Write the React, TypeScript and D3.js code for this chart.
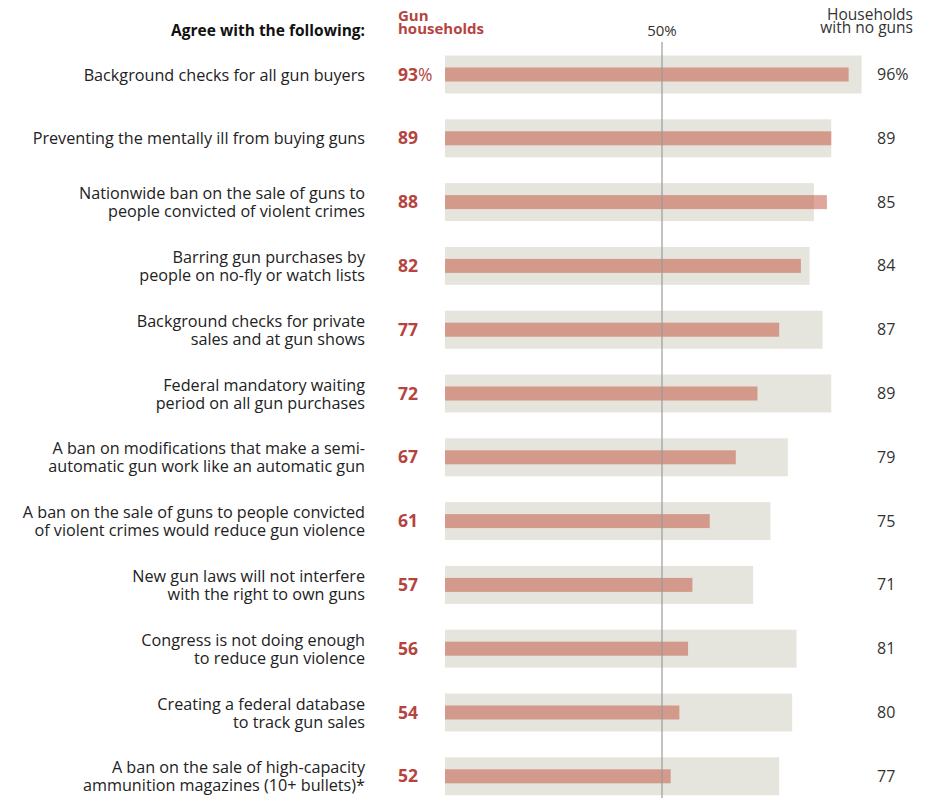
import React from "react";
import * as d3 from "d3";

const statements: string[][] = [
  ["Background checks for all gun buyers"],
  ["Preventing the mentally ill from buying guns"],
  ["Nationwide ban on the sale of guns to", "people convicted of violent crimes"],
  ["Barring gun purchases by", "people on no-fly or watch lists"],
  ["Background checks for private", "sales and at gun shows"],
  ["Federal mandatory waiting", "period on all gun purchases"],
  ["A ban on modifications that make a semi-", "automatic gun work like an automatic gun"],
  ["A ban on the sale of guns to people convicted", "of violent crimes would reduce gun violence"],
  ["New gun laws will not interfere", "with the right to own guns"],
  ["Congress is not doing enough", "to reduce gun violence"],
  ["Creating a federal database", "to track gun sales"],
  ["A ban on the sale of high-capacity", "ammunition magazines (10+ bullets)*"],
];
const gunHouseholds: number[] = [93, 89, 88, 82, 77, 72, 67, 61, 57, 56, 54, 52];
const noGunHouseholds: number[] = [96, 89, 85, 84, 87, 89, 79, 75, 71, 81, 80, 77];

const W = 934;
const H = 798;
const FONT = "'Open Sans', 'Liberation Sans', Arial, sans-serif";

export default function App() {
  const x = d3.scaleLinear().domain([0, 100]).range([445, 879]);
  const idx = d3.range(statements.length);
  const y = d3.scaleBand<number>().domain(idx).range([42.6, 808.2]).padding(0);
  const bw = y.bandwidth();
  const center = (i: number) => (y(i) as number) + bw / 2;
  const bgH = 38;
  const redH = 14;

  return (
    <div style={{ position: "fixed", left: 0, top: 0, width: W, height: H, background: "#fff" }}>
      <svg width={W} height={H} style={{ display: "block" }}>
        {/* header */}
        <text x={365} y={36} textAnchor="end" fontFamily={FONT} fontWeight="bold" fontSize={15.5} fill="#111">
          Agree with the following:
        </text>
        <text fontFamily={FONT} fontWeight="bold" fontSize={15} fill="#b5443f">
          <tspan x={398} y={21}>Gun</tspan>
          <tspan x={398} y={34}>households</tspan>
        </text>
        <text x={x(50)} y={36} textAnchor="middle" fontFamily={FONT} fontSize={15} fill="#333">
          50%
        </text>
        <text textAnchor="end" fontFamily={FONT} fontSize={15.5} fill="#333">
          <tspan x={913} y={20}>Households</tspan>
          <tspan x={913} y={33}>with no guns</tspan>
        </text>

        {idx.map((i) => {
          const cy = center(i);
          const lines = statements[i];
          return (
            <g key={i}>
              <rect x={x(0)} y={cy - bgH / 2} width={x(noGunHouseholds[i]) - x(0)} height={bgH} fill="#e6e5dd" />
              <rect
                x={x(0)}
                y={cy - redH / 2}
                width={x(gunHouseholds[i]) - x(0)}
                height={redH}
                fill="#c04e3a"
                fillOpacity={0.5}
              />
              <text textAnchor="end" fontFamily={FONT} fontSize={16.2} fill="#222">
                {lines.map((l, k) => (
                  <tspan key={k} x={365} y={cy + 6 + (k - (lines.length - 1) / 2) * 18}>
                    {l}
                  </tspan>
                ))}
              </text>
              <text x={398} y={cy + 6} fontFamily={FONT} fontSize={17.5} fontWeight="bold" fill="#b5443f">
                {gunHouseholds[i]}
                {i === 0 ? <tspan fontWeight="normal">%</tspan> : null}
              </text>
              <text x={877} y={cy + 5.5} fontFamily={FONT} fontSize={16} fill="#333">
                {noGunHouseholds[i]}
                {i === 0 ? "%" : ""}
              </text>
            </g>
          );
        })}

        <line x1={x(50)} x2={x(50)} y1={42} y2={H} stroke="#9a9a9a" strokeWidth={1.2} />
      </svg>
    </div>
  );
}
